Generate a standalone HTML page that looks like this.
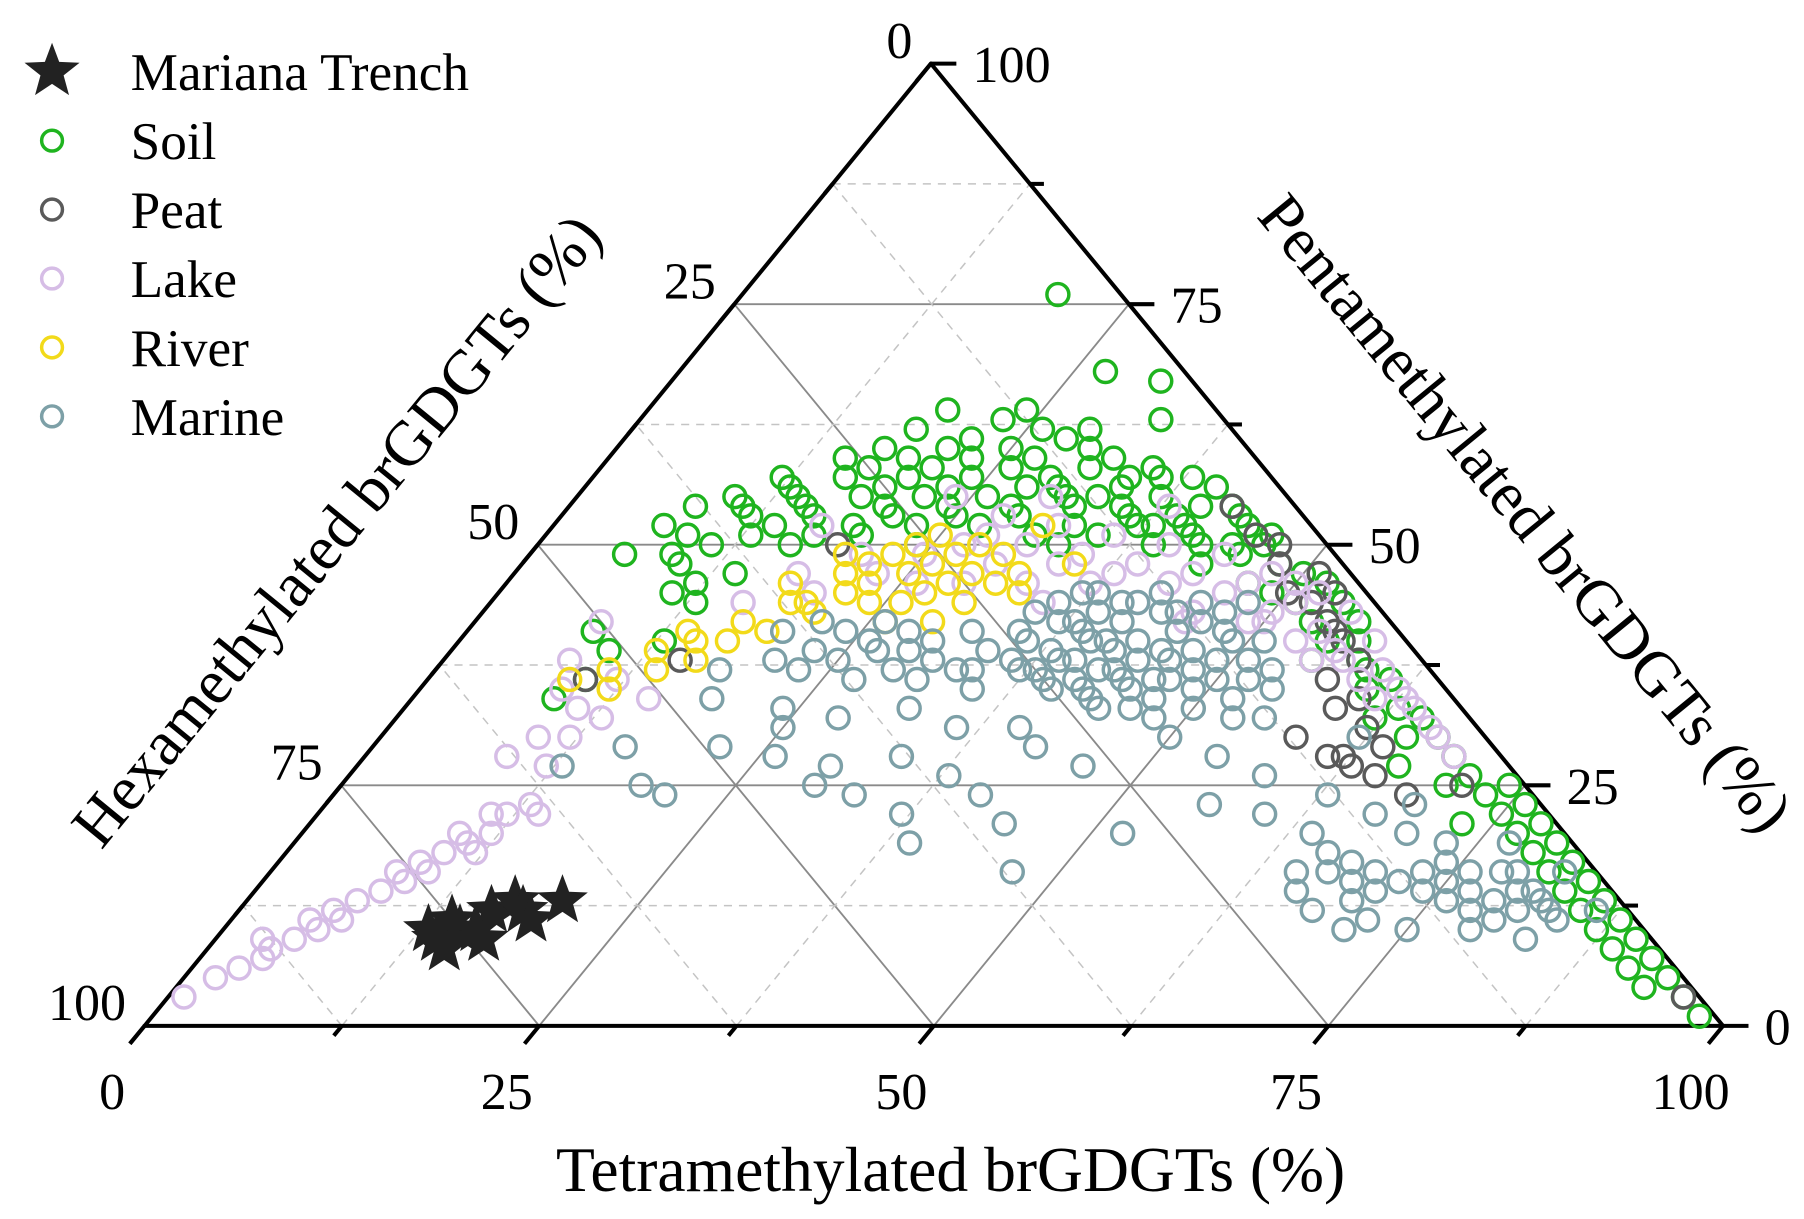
<!DOCTYPE html>
<html><head><meta charset="utf-8"><style>
html,body{margin:0;padding:0;background:#fff;}
svg{display:block;font-family:"Liberation Serif",serif;}
</style></head><body>
<svg id="chart" width="1804" height="1219" viewBox="0 0 1560 1054" preserveAspectRatio="none" xmlns="http://www.w3.org/2000/svg">
<g id="grid"></g>
<g id="axes"></g>
<g id="pts"></g>
<g id="legend"></g>
<text x="822" y="1030" font-size="55" text-anchor="middle">Tetramethylated brGDGTs (%)</text>
<text transform="translate(305,470) rotate(-50.7)" font-size="55" text-anchor="middle">Hexamethylated brGDGTs (%)</text>
<text transform="translate(1305,455) rotate(50.7)" font-size="55" text-anchor="middle">Pentamethylated brGDGTs (%)</text>
</svg>
<script>
// data as [Tetra%, Penta%] (Hexa = 100 - T - P)
const soil=[[20,76],[27,68],[31,67],[24,64],[33,63],[18,62],[22,61],[28,61],[30,60],[25,60],[15,59],[19,59],[23,59],[27,59],[32,59],[35,58],[38,57],[40,56],[12,57],[16,57],[20,57],[24,57],[29,57],[34,56],[37,55],[42,54],[10,55],[14,55],[18,55],[22,55],[26,55],[31,55],[35,54],[39,53],[44,52],[8,54],[12,53],[16,53],[21,53],[25,53],[29,53],[33,52],[41,51],[46,50],[9,51],[13,51],[17,51],[6,49],[10,48],[14,47],[11,45],[13,44],[8,41],[10,39],[48,48],[50,47],[52,46],[54,44],[56,42],[58,38],[60,35],[55,38],[62,32],[65,30],[66,27],[70,25],[73,21],[74,25],[76,23],[78,21],[80,19],[82,17],[84,15],[86,13],[88,11],[90,9],[92,7],[94,5],[96,3],[98,1],[57,40],[61,36],[65,32],[69,28],[73,24],[77,20],[81,16],[85,12],[89,8],[93,4],[45,49],[49,45],[53,42],[55,40],[59,37],[63,33],[67,30],[71,26],[75,22],[79,18],[83,14],[87,10],[91,6],[43,48],[47,46],[51,44],[10,36],[9,34],[13,40],[36,57],[30,56],[44,50],[33,50],[38,52],
[17,58],[21,58],[26,58],[31,58],[13,56],[19,56],[23,56],[28,56],[33,55],[11,54],[15,54],[20,54],[24,54],[28,54],[32,54],[36,53],[14,52],[19,52],[23,52],[27,52],[31,51],[35,51],[39,50],[11,50],[16,50],[20,51],[24,50],[7,52],[9,49],[12,46],[40,54],[43,53],[46,51],[37,52],[34,57],[26,62],[21,60],[17,60],[40,52],[42,50],[19,64],[23,63],[29,62]];
const peat=[[42,54],[45,51],[48,48],[50,45],[52,44],[54,42],[56,40],[58,38],[57,36],[60,34],[62,31],[61,28],[63,27],[65,26],[68,24],[71,25],[62,28],[47,50],[51,47],[53,45],[55,41],[59,33],[10,36],[96,3],[19,50],[15,38],[58,30],[64,29]];
const lake=[[1,3],[2,5],[3,6],[4,8],[5,9],[6,10],[6,12],[7,13],[8,14],[9,15],[9,17],[10,18],[11,19],[12,20],[12,22],[13,23],[5,11],[8,16],[10,20],[11,22],[14,22],[4,7],[7,11],[3,9],[10,16],[12,18],[9,28],[12,27],[10,30],[12,30],[11,33],[9,35],[8,38],[8,42],[12,36],[13,32],[15,34],[24,55],[28,53],[32,52],[36,51],[40,50],[44,49],[48,47],[52,45],[55,43],[58,40],[60,37],[63,34],[66,31],[69,28],[21,49],[25,49],[30,48],[34,48],[38,47],[42,46],[46,45],[50,43],[54,41],[26,46],[20,45],[18,47],[35,44],[45,42],[57,38],[62,35],[16,44],[17,52],[30,55],[38,54],[50,46],[50,42],[55,38],
[27,50],[31,50],[35,49],[39,48],[43,47],[47,46],[51,44],[29,46],[33,46],[37,46],[41,44],[45,43],[49,42],[53,40],[56,39],[59,36],[61,34],[64,33],[67,30],[23,47],[28,51]];
const river=[[22,48],[25,51],[20,49],[23,46],[18,46],[26,48],[28,50],[27,45],[24,44],[21,43],[17,42],[15,40],[13,39],[11,37],[9,36],[14,37],[16,38],[12,35],[30,49],[32,47],[30,44],[29,42],[33,45],[19,41],[31,52],[35,48],[26,42],[14,41],
[21,47],[23,49],[25,47],[27,49],[29,47],[24,50],[22,45],[26,44],[28,46],[20,44],[17,40],[19,44],[31,46]];
const marine=[[36,44],[38,45],[40,44],[42,45],[44,43],[46,42],[48,41],[37,42],[39,41],[41,42],[43,40],[45,39],[47,39],[49,38],[38,39],[40,38],[42,37],[44,36],[46,36],[50,36],[36,40],[35,43],[51,40],[48,44],[43,34],[39,36],[47,34],[52,34],[41,40],[45,44],[53,37],[37,37],[20,41],[22,42],[24,41],[26,42],[28,41],[30,40],[32,41],[34,39],[21,38],[23,37],[25,38],[27,36],[29,37],[31,36],[33,37],[18,37],[19,34],[24,33],[28,32],[32,33],[35,35],[22,29],[26,28],[30,27],[34,28],[38,26],[42,29],[46,27],[50,30],[54,28],[36,31],[40,31],[48,32],[25,31],[33,24],[37,22],[44,21],[52,20],[56,23],[60,22],[41,24],[58,26],[19,25],[16,29],[13,27],[21,24],[47,16],[30,25],[39,19],[62,30],[55,32],[64,20],[66,18],[68,17],[70,16],[72,15],[74,14],[76,13],[78,12],[80,14],[82,13],[84,11],[66,14],[68,12],[70,13],[72,11],[74,17],[76,16],[78,16],[80,11],[70,20],[73,19],[77,19],[82,16],[86,12],[65,16],[75,10],[79,10],[83,9],[71,10],[67,22],[63,24],[69,23],
[37,45],[39,43],[41,44],[43,43],[45,41],[47,43],[49,40],[51,38],[40,40],[42,39],[44,38],[46,38],[48,37],[39,38],[41,36],[43,37],[45,35],[47,36],[49,35],[36,38],[38,37],[40,35],[42,35],[44,33],[46,33],[50,33],[52,36],[54,35],[53,32],[38,42],[35,41],[34,37],[26,40],[29,39],[31,38],[23,39],[27,39],[75,15],[77,14],[79,13],[81,12],[73,16],[71,14],[69,15],[67,16],[81,14],[83,12],[79,16]];
const mariana=[[13,10],[14,11],[15,10],[16,12],[17,13],[18,12],[15,8],[17,9],[19,11],[20,13],[16,10],[14,9]];
const tickValues=[0,25,50,75,100];
const minorValues=[12.5,37.5,62.5,87.5];

const NS="http://www.w3.org/2000/svg";
const TOP=[805,55],BL=[125,887],BR=[1490,887];
function pos(T,P){const t=T/100,p=P/100,h=1-t-p;return [h*BL[0]+t*BR[0]+p*TOP[0],h*BL[1]+t*BR[1]+p*TOP[1]];}
function mk(tag,attrs,parent){const e=document.createElementNS(NS,tag);for(const k in attrs)e.setAttribute(k,attrs[k]);parent.appendChild(e);return e;}
const grid=document.getElementById('grid'),axes=document.getElementById('axes'),pts=document.getElementById('pts'),leg=document.getElementById('legend');
function seg(a,b,style,parent,name){const l=mk('line',{x1:a[0],y1:a[1],x2:b[0],y2:b[1]},parent);for(const k in style)l.setAttribute(k,style[k]);

return l;}
const solid={stroke:'#8a8a8a','stroke-width':1.6},dash={stroke:'#c4c4c4','stroke-width':1.3,'stroke-dasharray':'7,6'};
[...tickValues.slice(1,4),...minorValues].forEach(v=>{
  const st=(v%25===0)?solid:dash;
  seg(pos(v,0),pos(v,100-v),st,grid,'grid-tetra');
  seg(pos(0,v),pos(100-v,v),st,grid,'grid-penta');
  seg(pos(100-v,0),pos(0,100-v),st,grid,'grid-hexa');
});
const tk={stroke:'#000','stroke-width':3.5};
const all=[...tickValues,...minorValues];
const dirL=[680,-832],dL=Math.hypot(680,832);
const dirR=[1365-680,-832],dR=Math.hypot(dirR[0],dirR[1]);
all.forEach(v=>{
  const L=(v%25===0)?20:11;
  let a=pos(v,0); seg(a,[a[0]-dirL[0]/dL*L,a[1]-dirL[1]/dL*L],tk,axes,'tick-tetra');
  a=pos(100-v,v); seg(a,[a[0]+L*1.1,a[1]],tk,axes,'tick-penta');
  a=pos(0,100-v); seg(a,[a[0]-dirR[0]/dR*L,a[1]-dirR[1]/dR*L],tk,axes,'tick-hexa');
});
const ol={stroke:'#000','stroke-width':3.5,'stroke-linecap':'round'};
seg(BL,BR,ol,axes,'tetra-axis');seg(BR,TOP,ol,axes,'penta-axis');seg(TOP,BL,ol,axes,'hexa-axis');
function txt(s,x,y,anchor,parent,name,size){const t=mk('text',{x:x,y:y,'font-size':size||45,'text-anchor':anchor},parent);t.textContent=s;

return t;}
tickValues.forEach(v=>{
  const b=pos(v,0);txt(String(v),b[0]-28,b[1]+72,'middle',axes,'tetra-tick-label');
  const r=pos(100-v,v);txt(String(v),r[0]+36,r[1]+16,'start',axes,'penta-tick-label');
  const l=pos(0,100-v);txt(String(v),l[0]-16,l[1]-5,'end',axes,'hexa-tick-label');
});
function circles(arr,color,name){arr.forEach(d=>{const p=pos(d[0],d[1]);const c=mk('circle',{cx:p[0],cy:p[1],r:9.5,fill:'none',stroke:color,'stroke-width':3},pts);

});}
function starPath(cx,cy,R){const r=R*0.42;let s='';for(let i=0;i<10;i++){const a=-Math.PI/2+i*Math.PI/5,rr=i%2?r:R;s+=(i?'L':'M')+(cx+rr*Math.cos(a)).toFixed(1)+','+(cy+rr*Math.sin(a)).toFixed(1);}return s+'Z';}
circles(soil,'#1fb41f','soil-point');
circles(peat,'#5a5a5a','peat-point');
circles(lake,'#d6bde6','lake-point');
circles(river,'#f2da1a','river-point');
circles(marine,'#7da0a7','marine-point');
mariana.forEach(d=>{const p=pos(d[0],d[1]);const s=mk('path',{d:starPath(p[0],p[1],23),fill:'#222'},pts);

});
const items=[['Mariana Trench','star','#222'],['Soil','c','#1fb41f'],['Peat','c','#5a5a5a'],['Lake','c','#d6bde6'],['River','c','#f2da1a'],['Marine','c','#7da0a7']];
items.forEach((it,i)=>{const y=62+i*59.6;
  const g=mk('g',{},leg);
  
  
  if(it[1]==='star')mk('path',{d:starPath(45,y,25),fill:it[2]},g);
  else mk('circle',{cx:45,cy:y,r:9,fill:'none',stroke:it[2],'stroke-width':3},g);
  txt(it[0],113,y+16,'start',g,'legend-label',46);
});
</script>
</body></html>
